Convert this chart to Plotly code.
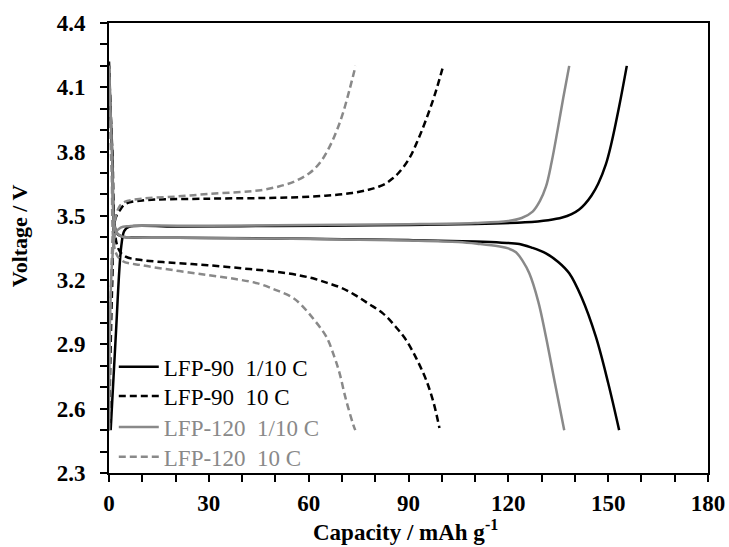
import plotly.graph_objects as go

# ---- LFP-90, 1/10 C ----
cap_90_slow_chg = [0.5, 2.0, 3.7, 4.6, 6, 20, 50, 80, 110, 125, 132, 136.2, 139, 141.3, 143, 145, 147, 149.3, 151, 153.3, 155.6]
v_90_slow_chg = [2.50, 2.93, 3.36, 3.43, 3.449, 3.450, 3.453, 3.456, 3.462, 3.470, 3.480, 3.492, 3.508, 3.530, 3.555, 3.595, 3.65, 3.74, 3.84, 4.01, 4.20]
cap_90_slow_dis = [0, 1.0, 2.3, 4, 6, 30, 60, 90, 110, 118, 123.3, 127, 131.3, 135, 138.3, 142, 146.3, 150, 153.3]
v_90_slow_dis = [4.20, 3.78, 3.42, 3.403, 3.400, 3.397, 3.393, 3.387, 3.380, 3.375, 3.369, 3.352, 3.325, 3.285, 3.232, 3.12, 2.936, 2.72, 2.50]

# ---- LFP-90, 10 C ----
cap_90_fast_chg = [0, 1.0, 1.8, 3.3, 5, 10, 30, 50, 57.3, 65, 72.3, 78, 81, 83.3, 85, 87, 90.3, 93, 95.3, 98, 100.5]
v_90_fast_chg = [2.50, 3.20, 3.48, 3.527, 3.556, 3.572, 3.580, 3.584, 3.587, 3.594, 3.605, 3.622, 3.636, 3.652, 3.672, 3.70, 3.77, 3.86, 3.95, 4.07, 4.204]
cap_90_fast_dis = [0, 1.0, 2.7, 5, 9.7, 20, 29.7, 40, 49.7, 57.3, 62, 66, 70, 74, 78, 82.3, 86, 89.3, 92.5, 95.3, 97.5, 99.3]
v_90_fast_dis = [4.22, 3.80, 3.35, 3.31, 3.294, 3.280, 3.270, 3.255, 3.240, 3.222, 3.205, 3.185, 3.163, 3.130, 3.090, 3.045, 2.985, 2.92, 2.83, 2.734, 2.63, 2.51]

# ---- LFP-120, 1/10 C ----
cap_120_slow_chg = [0, 0.3, 1.0, 2.0, 3.5, 6, 30, 60, 90, 110, 120, 124, 127.3, 129.5, 131.3, 133, 134.8, 136.5, 138.3]
v_120_slow_chg = [2.50, 3.00, 3.30, 3.42, 3.445, 3.452, 3.454, 3.457, 3.461, 3.467, 3.476, 3.490, 3.520, 3.570, 3.636, 3.75, 3.90, 4.05, 4.20]
cap_120_slow_dis = [0, 1.0, 2.0, 3.5, 6, 30, 60, 90, 105, 111.3, 117, 120, 122.3, 124.3, 126.3, 129, 131.3, 134, 136.8]
v_120_slow_dis = [4.20, 3.75, 3.43, 3.405, 3.400, 3.397, 3.392, 3.385, 3.378, 3.369, 3.358, 3.348, 3.33, 3.29, 3.232, 3.10, 2.936, 2.72, 2.50]

# ---- LFP-120, 10 C ----
cap_120_fast_chg = [0, 0.5, 1.5, 3.0, 4.7, 10, 20, 29.7, 40, 45.6, 51, 55.7, 60.3, 63.5, 66.3, 68.5, 70.3, 72.3, 74.1]
v_120_fast_chg = [2.50, 3.10, 3.45, 3.54, 3.565, 3.580, 3.590, 3.602, 3.612, 3.620, 3.637, 3.660, 3.70, 3.75, 3.823, 3.90, 3.979, 4.09, 4.20]
cap_120_fast_dis = [0, 0.8, 2.0, 4.0, 9.7, 20, 29.7, 38, 44.7, 50, 54.7, 57.3, 61.7, 65.3, 67.7, 69.3, 71.0, 73.3, 74.0]
v_120_fast_dis = [4.20, 3.70, 3.33, 3.29, 3.270, 3.245, 3.224, 3.205, 3.185, 3.155, 3.123, 3.092, 3.014, 2.936, 2.843, 2.765, 2.655, 2.53, 2.50]

x_ticks = [0, 30, 60, 90, 120, 150, 180]
y_ticks = [2.3, 2.6, 2.9, 3.2, 3.5, 3.8, 4.1, 4.4]

BLACK = "#000000"
GREY = "#898989"
FONT = "Liberation Serif"

series = [
    ("LFP-90\u00a0\u00a01/10 C", BLACK, "solid", cap_90_slow_chg, v_90_slow_chg, cap_90_slow_dis, v_90_slow_dis),
    ("LFP-90\u00a0\u00a010 C", BLACK, "7px,4px", cap_90_fast_chg, v_90_fast_chg, cap_90_fast_dis, v_90_fast_dis),
    ("LFP-120\u00a0\u00a01/10 C", GREY, "solid", cap_120_slow_chg, v_120_slow_chg, cap_120_slow_dis, v_120_slow_dis),
    ("LFP-120\u00a0\u00a010 C", GREY, "7px,4px", cap_120_fast_chg, v_120_fast_chg, cap_120_fast_dis, v_120_fast_dis),
]

# one legend box per entry so the rows can sit at a fixed pitch
legend_rows_y = [0.236, 0.171, 0.102, 0.036]

fig = go.Figure()
legend_layout = {}
for i, (name, color, dash, xc, yc, xd, yd) in enumerate(series):
    lg = "legend" if i == 0 else f"legend{i + 1}"
    label = f"<span style='color:{color}'>{name}</span>"
    line = dict(color=color, width=2.5, dash=dash, shape="spline", smoothing=1.0)
    fig.add_trace(go.Scatter(x=xc, y=yc, mode="lines", name=label, legendgroup=name,
                             legend=lg, line=line))
    fig.add_trace(go.Scatter(x=xd, y=yd, mode="lines", name=label, legendgroup=name,
                             legend=lg, showlegend=False, line=line))
    legend_layout[lg] = dict(
        x=0.008, y=legend_rows_y[i], xanchor="left", yanchor="middle",
        bgcolor="rgba(0,0,0,0)", borderwidth=0,
        font=dict(family=FONT, size=23, color="black"),
        itemwidth=40,
    )

axis_common = dict(
    showgrid=False, zeroline=False, showline=True, linecolor="black", linewidth=2,
    mirror=True, ticks="outside", ticklen=7, tickwidth=2, tickcolor="black",
    tickfont=dict(family=FONT, size=23, color="black", weight="bold"),
    automargin=False,
)

fig.update_xaxes(
    range=[0, 180], tickvals=x_ticks, ticktext=[str(v) for v in x_ticks],
    minor=dict(dtick=10, ticks="outside", ticklen=7, tickwidth=2, tickcolor="black"),
    ticklabelstandoff=1,
    **axis_common,
)
fig.update_yaxes(
    range=[2.3, 4.4], tickvals=y_ticks, ticktext=[f"{v:.1f}" for v in y_ticks],
    minor=dict(dtick=0.1, tick0=2.3, ticks="outside", ticklen=7, tickwidth=2, tickcolor="black"),
    ticklabelstandoff=10,
    **axis_common,
)

# axis titles
fig.add_annotation(text="Capacity / mAh g<sup>-1</sup>", xref="paper", yref="paper",
                   x=0.495, y=-0.128, xanchor="center", yanchor="middle",
                   showarrow=False,
                   font=dict(family=FONT, size=23, color="black", weight="bold"))
fig.add_annotation(text="Voltage / V", xref="paper", yref="paper",
                   x=-0.148, y=0.527, xanchor="center", yanchor="middle",
                   textangle=-90, showarrow=False,
                   font=dict(family=FONT, size=22, color="black", weight="bold"))

fig.update_layout(
    width=729, height=547,
    margin=dict(l=109, r=21, t=23, b=74),
    plot_bgcolor="white", paper_bgcolor="white",
    font=dict(family=FONT, color="black"),
    showlegend=True,
    **legend_layout,
)

fig.write_html("out.html")
